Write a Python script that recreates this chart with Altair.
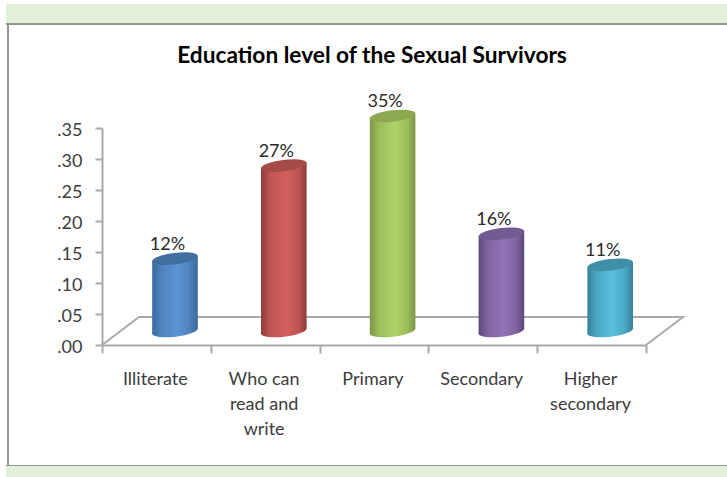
import math
import altair as alt
import pandas as pd

# Chart content
categories = ["Illiterate", "Who can\nread and\nwrite", "Primary", "Secondary", "Higher\nsecondary"]
shares = [0.12, 0.27, 0.35, 0.16, 0.11]
share_labels = ["12%", "27%", "35%", "16%", "11%"]
y_ticks = [0.0, 0.05, 0.10, 0.15, 0.20, 0.25, 0.30, 0.35]
x_ticks = [0, 1, 2, 3, 4, 5]

# (dark edge, mid tone, highlight, cap colour) for each cylinder
palettes = [
    ("#3a699c", "#4f83bd", "#5b95d3", "#41709f"),
    ("#8c3d3b", "#bd5553", "#d35f5e", "#a74b49"),
    ("#7d9648", "#9cbc5b", "#acd468", "#8ea852"),
    ("#5c477a", "#8065a2", "#9273b6", "#735a93"),
    ("#37809a", "#4aa8c4", "#58bfda", "#408fa8"),
]

# Plot frame in pixels
LEFT, TOP, PLOT_W, PLOT_H = 102, 128, 544, 217
TOTAL_W, TOTAL_H = 727, 477

# Pixel sizes converted to data units so the 3-D look goes through the scales
X_PX = 5 / PLOT_W
Y_PX = 0.35 / PLOT_H
CENTER_SHIFT = 73 * X_PX
HALF_W = 22.8 * X_PX
TILT = 2.7 * Y_PX
BASE_DEPTH = 14 * Y_PX
TOP_DEPTH = 12 * Y_PX
FLOOR_DX = 37 * X_PX
FLOOR_DY = 28 * Y_PX

AXIS_GREY = "#a9a9a9"
TEXT = "#3c3c3c"
FONT = "Lato"


def ellipse_path(a=1.0, b=0.25, deg=-7.0):
    """Tilted ellipse as cubic segments, in the unit box of a custom symbol."""
    k = 0.5523
    phi = math.radians(deg)
    c, s = math.cos(phi), math.sin(phi)

    def pt(u, v):
        x, y = a * u, b * v
        return f"{x * c - y * s:.4f},{x * s + y * c:.4f}"

    return (
        f"M{pt(1, 0)}"
        f"C{pt(1, k)} {pt(k, 1)} {pt(0, 1)}"
        f"C{pt(-k, 1)} {pt(-1, k)} {pt(-1, 0)}"
        f"C{pt(-1, -k)} {pt(-k, -1)} {pt(0, -1)}"
        f"C{pt(k, -1)} {pt(1, -k)} {pt(1, 0)}Z"
    )


def shaded(p):
    return alt.Gradient(
        gradient="linear", x1=0, y1=0, x2=1, y2=0,
        stops=[
            alt.GradientStop(color=p[0], offset=0),
            alt.GradientStop(color=p[1], offset=0.2),
            alt.GradientStop(color=p[2], offset=0.55),
            alt.GradientStop(color=p[1], offset=0.82),
            alt.GradientStop(color=p[0], offset=1),
        ],
    )


def frame_rect(x0, x1, y0, y1, color):
    return alt.Chart(pd.DataFrame({"k": [0]})).mark_rect(color=color).encode(
        x=alt.value(x0 - LEFT), x2=alt.value(x1 - LEFT),
        y=alt.value(y0 - TOP), y2=alt.value(y1 - TOP),
    )


x_scale = alt.Scale(domain=[0, 5], nice=False, zero=False)
y_scale = alt.Scale(domain=[0, 0.35], nice=False, zero=False)

# Every layer shares the same axis definitions so they merge cleanly
x_axis = alt.Axis(
    values=x_ticks, labels=False, title=None, grid=False,
    domainColor=AXIS_GREY, domainWidth=2, tickColor=AXIS_GREY,
    tickWidth=2, tickSize=8,
)
y_axis = alt.Axis(
    values=y_ticks, title=None, grid=False, labelOverlap=False,
    labelExpr="replace(format(datum.value, '.2f'), '0.', '.')",
    labelFont=FONT, labelFontSize=18, labelColor=TEXT, labelPadding=13,
    labelOffset=2,
    domainColor=AXIS_GREY, domainWidth=2, tickColor=AXIS_GREY,
    tickWidth=2, tickSize=7,
)
X = lambda f: alt.X(f, type="quantitative", scale=x_scale, axis=x_axis)
Y = lambda f: alt.Y(f, type="quantitative", scale=y_scale, axis=y_axis)

layers = [
    frame_rect(6, TOTAL_W, 4, 23, "#e2efd9"),
    frame_rect(6, TOTAL_W, 23, 25, "#8e9a8c"),
    frame_rect(7, 9, 23, 466, "#8e9a8c"),
    frame_rect(6, TOTAL_W, 465, 466, "#8e9a8c"),
    frame_rect(6, TOTAL_W, 466, TOTAL_H, "#e2efd9"),
]

# Floor of the 3-D box
floor = pd.DataFrame({
    "x": [0, FLOOR_DX, 5 + FLOOR_DX, 5],
    "y": [0, FLOOR_DY, FLOOR_DY, 0],
    "o": [0, 1, 2, 3],
})
layers.append(
    alt.Chart(floor).mark_line(color=AXIS_GREY, strokeWidth=2).encode(
        x=X("x"), y=Y("y"), order="o:Q",
    )
)

# One cylinder per category: base ellipse, body, cap
cap_shape = ellipse_path()
for i, (value, pal) in enumerate(zip(shares, palettes)):
    cx = i + CENTER_SHIFT
    base = pd.DataFrame({"x": [cx], "y": [BASE_DEPTH]})
    body = pd.DataFrame({
        "x": [cx - HALF_W, cx + HALF_W],
        "low": [BASE_DEPTH - TILT, BASE_DEPTH + TILT],
        "high": [value + TOP_DEPTH - TILT, value + TOP_DEPTH + TILT],
    })
    cap = pd.DataFrame({"x": [cx], "y": [value + TOP_DEPTH]})
    layers.append(
        alt.Chart(base).mark_point(
            shape=cap_shape, size=2116, filled=True, fill=shaded(pal),
            opacity=1, strokeWidth=0,
        ).encode(x=X("x"), y=Y("y"))
    )
    layers.append(
        alt.Chart(body).mark_area(fill=shaded(pal), opacity=1).encode(
            x=X("x"), y=Y("low"), y2="high:Q",
        )
    )
    layers.append(
        alt.Chart(cap).mark_point(
            shape=cap_shape, size=2116, filled=True, fill=pal[3],
            opacity=1, strokeWidth=0,
        ).encode(x=X("x"), y=Y("y"))
    )

# Value labels above the cylinders
value_df = pd.DataFrame({
    "x": [i + CENTER_SHIFT for i in range(len(shares))],
    "y": [v + TOP_DEPTH for v in shares],
    "label": share_labels,
})
layers.append(
    alt.Chart(value_df).mark_text(
        font=FONT, fontSize=18, color="#2a2a2a", baseline="middle", align="center",
        dx=-7.5, dy=-14,
    ).encode(x=X("x"), y=Y("y"), text="label:N")
)

# Category names under the axis
cat_df = pd.DataFrame({
    "x": [i + 0.49 for i in range(len(categories))],
    "y": [0.0] * len(categories),
    "label": categories,
})
layers.append(
    alt.Chart(cat_df).mark_text(
        font=FONT, fontSize=18, color=TEXT, baseline="top", align="center",
        lineBreak="\n", lineHeight=25, dy=25.5,
    ).encode(x=X("x"), y=Y("y"), text="label:N")
)

chart = alt.layer(*layers).properties(
    width=PLOT_W,
    height=PLOT_H,
    padding={"left": LEFT, "top": TOP, "right": TOTAL_W - LEFT - PLOT_W, "bottom": TOTAL_H - TOP - PLOT_H},
    autosize=alt.AutoSizeParams(type="none"),
    background="white",
    title=alt.TitleParams(
        "Education level of the Sexual Survivors",
        font=FONT, fontSize=22.7, fontWeight="bold", color="#000000",
        anchor="middle", offset=-64, dx=-2,
    ),
).configure_view(stroke=None)

chart.save("out.html", embed_options={"renderer": "svg", "actions": False})
